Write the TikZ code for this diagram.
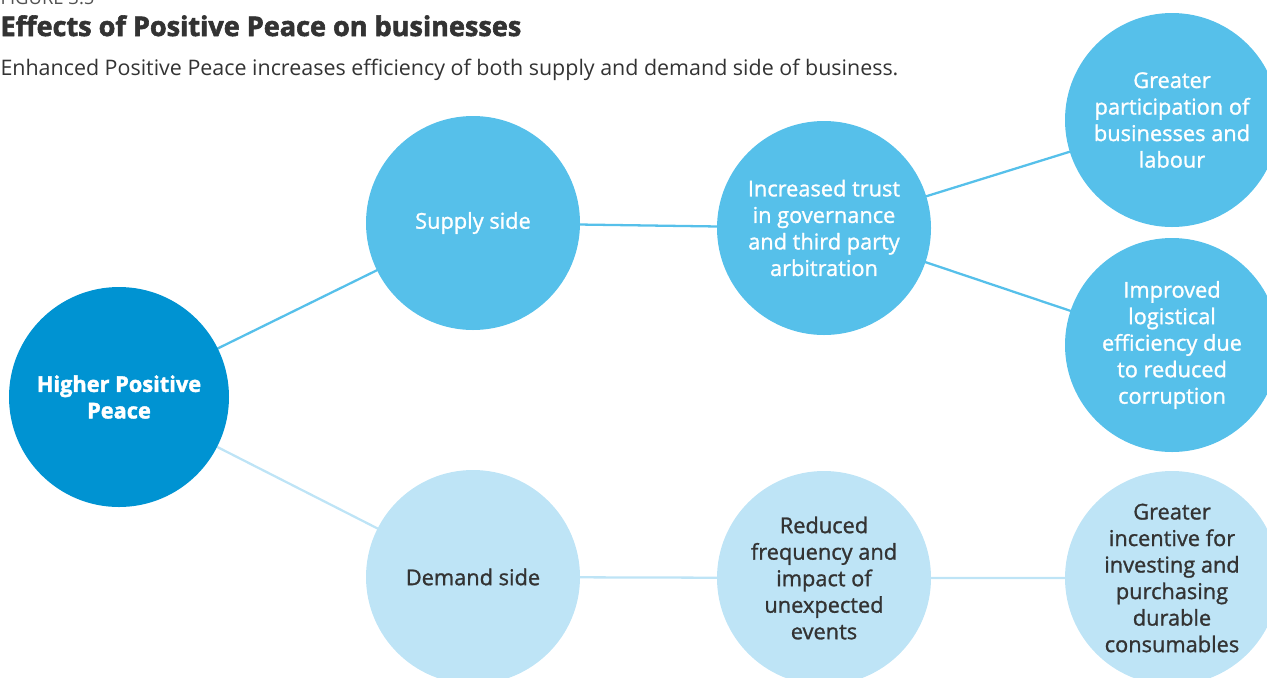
\documentclass[tikz,border=0pt]{standalone}
\usepackage{fontspec}
\setmainfont{Open Sans}
\newfontfamily\bubblefont{Open Sans}[FakeBold=1.2, BoldFeatures={FakeBold=1.8}]
\newfontfamily\headfont{Open Sans}[BoldFeatures={FakeBold=2.2}]
\definecolor{peacedark}{HTML}{0093D2}
\definecolor{peacemid}{HTML}{56C0EA}
\definecolor{peacelight}{HTML}{BEE4F6}
\definecolor{inkgray}{HTML}{333333}
\tikzset{
  bubble/.style={circle, minimum size=214\pgflinewidth, inner sep=0pt, align=center,
    font=\bubblefont\fontsize{12.4}{15.1}\selectfont},
  supplybubble/.style={bubble, fill=peacemid, text=white},
  demandbubble/.style={bubble, fill=peacelight, text=inkgray},
  supplylink/.style={draw=peacemid, line width=1.3pt},
  demandlink/.style={draw=peacelight, line width=1.3pt}
}
\begin{document}
\begin{tikzpicture}[x=0.02cm, y=-0.02cm, line width=0.02cm]
\useasboundingbox (0,0) rectangle (1267,677);
% heading
\node[anchor=base west, inner sep=0pt, text=inkgray!85, font=\fontsize{10.5}{12}\selectfont] (fig) at (0,4) {FIGURE 3.5};
\node[anchor=base west, inner sep=0pt, text=inkgray, font=\headfont\fontsize{15.4}{18}\selectfont\bfseries] (title) at (0,36) {Effects of Positive Peace on businesses};
\node[anchor=base west, inner sep=0pt, text=inkgray, font=\fontsize{12.2}{14}\selectfont] (sub) at (0,75) {Enhanced Positive Peace increases efficiency of both supply and demand side of business.};
% links first, so the bubbles sit on top
\coordinate (hpp) at (119,397);
\coordinate (sup) at (473,223);
\coordinate (trust) at (824,228);
\coordinate (part) at (1172,120);
\coordinate (logi) at (1172,345);
\coordinate (dem) at (473,577);
\coordinate (freq) at (824,578);
\coordinate (inv) at (1172,578);
\draw[supplylink] (hpp)--(sup)--(trust)--(part);
\draw[supplylink] (trust)--(logi);
\draw[demandlink] (hpp)--(dem)--(freq)--(inv);
% bubbles
\node[bubble, minimum size=220\pgflinewidth, fill=peacedark, text=white, font=\bubblefont\fontsize{12.4}{15.1}\selectfont\bfseries] (higher) at (hpp) {Higher Positive\\Peace};
\node[supplybubble] (supply) at (sup) {Supply side};
\node[supplybubble] (trustnode) at (trust) {Increased trust\\in governance\\and third party\\arbitration};
\node[supplybubble] (partnode) at (part) {Greater\\participation of\\businesses and\\labour};
\node[supplybubble] (loginode) at (logi) {Improved\\logistical\\efficiency due\\to reduced\\corruption};
\node[demandbubble] (demand) at (dem) {Demand side};
\node[demandbubble] (freqnode) at (freq) {Reduced\\frequency and\\impact of\\unexpected\\events};
\node[demandbubble] (invnode) at (inv) {Greater\\incentive for\\investing and\\purchasing\\durable\\consumables};
\end{tikzpicture}
\end{document}
